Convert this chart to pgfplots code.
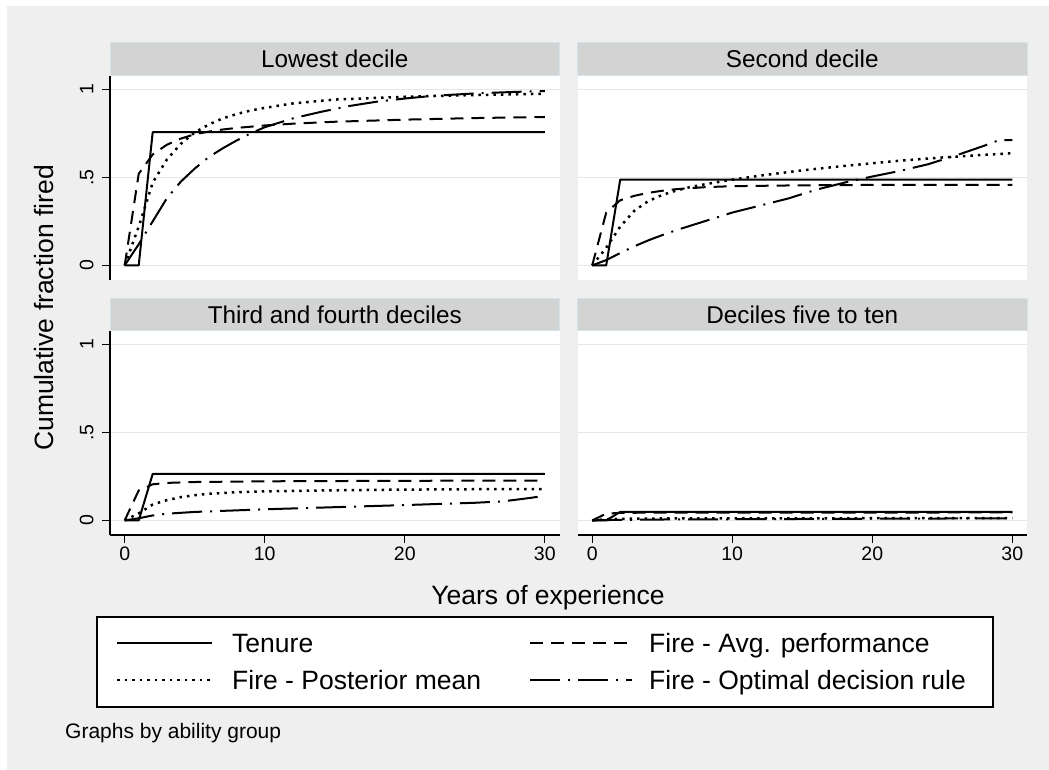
\documentclass[border=0pt]{standalone}
\usepackage{fontspec}
\setmainfont{Liberation Sans}
\usepackage{pgfplots}
\pgfplotsset{compat=1.18}
\definecolor{bggray}{RGB}{239,239,239}
\definecolor{stripgray}{RGB}{211,211,211}
\definecolor{stripedge}{RGB}{214,226,234}
\definecolor{gridgray}{RGB}{230,230,230}
\tikzset{
  tenure/.style={black, line width=2pt, line join=round},
  avgperf/.style={black, line width=2pt, dash pattern=on 13pt off 8pt, line join=round},
  postmean/.style={black, line width=2.5pt, dash pattern=on 2.5pt off 5pt},
  optrule/.style={black, line width=2pt, dash pattern=on 30pt off 8pt on 2pt off 8pt, line join=round},
}
\pgfplotsset{
  panel/.style={
    scale only axis, width=449.5pt, height=204pt, anchor=south west,
    xmin=-1.05, xmax=31.05, ymin=-0.083, ymax=1.076,
    ytick={0,0.5,1}, yticklabels={0,.5,1},
    xtick={0,10,20,30}, xticklabels={0,10,20,30},
    ymajorgrids, major grid style={gridgray, line width=1.6pt},
    axis background/.style={fill=white},
    tick align=outside, major tick length=8pt,
    tick style={black, line width=1.2pt},
    axis line style={-, black, line width=1.4pt},
    ticklabel style={font=\fontsize{19.5pt}{23pt}\selectfont},
    yticklabel style={rotate=90, anchor=south, yshift=5pt},
    /pgf/number format/assume math mode=true,
  },
  notopx/.style={axis x line=none, xtick=\empty},
  noleft/.style={y axis line style={draw=none}, ytick style={draw=none}, yticklabel style={text opacity=0}},
}
\begin{document}
\begin{tikzpicture}
\path[use as bounding box, fill=white] (0pt,0pt) rectangle (1049pt,770pt);
\fill[bggray] (7pt,0pt) rectangle (1049pt,764pt);

% Lowest decile
\begin{axis}[panel, at={(110pt,490pt)}, notopx, axis y line*=left]
\addplot[tenure] coordinates {(0,0)(1,0)(2,0.757)(30,0.757)};
\addplot[avgperf] coordinates {(0,0)(1,0.52)(2,0.63)(3,0.685)(4,0.72)(5,0.745)(6,0.76)(7,0.772)(8,0.781)(10,0.795)(12,0.805)(15,0.816)(20,0.828)(25,0.837)(30,0.843)};
\addplot[postmean] coordinates {(0,0)(1,0.22)(2,0.47)(3,0.6)(4,0.69)(5,0.755)(6,0.8)(7,0.835)(8,0.86)(9,0.88)(10,0.895)(12,0.92)(15,0.942)(20,0.958)(25,0.968)(30,0.975)};
\addplot[optrule] coordinates {(0,0)(1,0.12)(2,0.25)(3,0.38)(4,0.475)(5,0.55)(6,0.615)(7,0.665)(8,0.71)(9,0.75)(10,0.785)(12,0.835)(14,0.872)(16,0.905)(18,0.93)(20,0.948)(22,0.963)(25,0.977)(28,0.986)(30,0.99)};
\end{axis}

% Second decile
\begin{axis}[panel, at={(577.5pt,490pt)}, notopx, axis y line*=left, noleft]
\addplot[tenure] coordinates {(0,0)(1,0)(2,0.487)(30,0.487)};
\addplot[avgperf] coordinates {(0,0)(1,0.3)(2,0.37)(3,0.395)(4,0.412)(5,0.424)(6,0.433)(8,0.444)(10,0.45)(15,0.455)(20,0.457)(30,0.458)};
\addplot[postmean] coordinates {(0,0)(1,0.1)(2,0.22)(3,0.31)(4,0.365)(5,0.4)(6,0.425)(7,0.445)(8,0.46)(10,0.487)(12,0.51)(15,0.54)(18,0.565)(20,0.58)(22,0.595)(25,0.613)(28,0.628)(30,0.637)};
\addplot[optrule] coordinates {(0,0)(1,0.03)(2,0.07)(3,0.108)(4,0.142)(5,0.172)(6,0.2)(8,0.25)(10,0.3)(12,0.34)(14,0.38)(16,0.43)(18,0.47)(20,0.505)(22,0.537)(24,0.575)(26,0.625)(28,0.68)(29,0.71)(30,0.712)};
\end{axis}

% Third and fourth deciles
\begin{axis}[panel, at={(110pt,235pt)}, axis x line*=bottom, axis y line*=left]
\addplot[tenure] coordinates {(0,0)(1,0)(2,0.264)(30,0.264)};
\addplot[avgperf] coordinates {(0,0)(1,0.17)(2,0.205)(3,0.213)(5,0.218)(10,0.222)(20,0.225)(30,0.226)};
\addplot[postmean] coordinates {(0,0)(1,0.04)(2,0.09)(3,0.115)(4,0.132)(5,0.143)(6,0.151)(8,0.16)(10,0.165)(15,0.171)(20,0.175)(25,0.177)(30,0.178)};
\addplot[optrule] coordinates {(0,0)(1,0.012)(2,0.028)(3,0.038)(5,0.048)(10,0.063)(15,0.075)(20,0.087)(25,0.1)(27,0.108)(29,0.128)(30,0.14)};
\end{axis}

% Deciles five to ten
\begin{axis}[panel, at={(577.5pt,235pt)}, axis x line*=bottom, axis y line*=left, noleft]
\addplot[tenure] coordinates {(0,0)(1,0)(2,0.048)(30,0.048)};
\addplot[avgperf] coordinates {(0,0)(1,0.038)(2,0.043)(5,0.044)(30,0.045)};
\addplot[postmean] coordinates {(0,0)(1,0.006)(2,0.009)(5,0.011)(30,0.013)};
\addplot[optrule] coordinates {(0,0)(1,0.002)(5,0.005)(15,0.008)(30,0.012)};
\end{axis}

% strips
\begin{scope}[font=\fontsize{24.3pt}{29pt}\selectfont]
\filldraw[fill=stripgray, draw=stripedge, line width=0.8pt] (110pt,694.5pt) rectangle (559.5pt,727.5pt);
\filldraw[fill=stripgray, draw=stripedge, line width=0.8pt] (577.5pt,694.5pt) rectangle (1027pt,727.5pt);
\filldraw[fill=stripgray, draw=stripedge, line width=0.8pt] (110pt,439.5pt) rectangle (559.5pt,471.5pt);
\filldraw[fill=stripgray, draw=stripedge, line width=0.8pt] (577.5pt,439.5pt) rectangle (1027pt,471.5pt);
\node[anchor=base, inner sep=0pt] at (334.75pt,702.3pt) {Lowest decile};
\node[anchor=base, inner sep=0pt] at (802.25pt,702.3pt) {Second decile};
\node[anchor=base, inner sep=0pt] at (334.75pt,446.8pt) {Third and fourth deciles};
\node[anchor=base, inner sep=0pt] at (802.25pt,446.8pt) {Deciles five to ten};
\end{scope}

% axis titles
\node[rotate=90, inner sep=0pt, font=\fontsize{26.5pt}{30pt}\selectfont] at (44pt,462pt) {Cumulative fraction fired};
\node[inner sep=0pt, font=\fontsize{26.5pt}{30pt}\selectfont] at (548pt,172pt) {Years of experience};

% legend
\draw[black, line width=1.5pt, fill=white] (97pt,63pt) rectangle (993pt,153pt);
\begin{scope}[font=\fontsize{26.5pt}{30pt}\selectfont]
\draw[tenure] (117pt,127pt) -- (212pt,127pt);
\node[anchor=base west, inner sep=0pt] at (232pt,117.5pt) {Tenure};
\draw[avgperf] (530pt,127pt) -- (632pt,127pt);
\node[anchor=base west, inner sep=0pt] at (649pt,117.5pt) {Fire - Avg. performance};
\draw[postmean] (117pt,90pt) -- (212pt,90pt);
\node[anchor=base west, inner sep=0pt] at (232pt,80.5pt) {Fire - Posterior mean};
\draw[optrule] (530pt,90pt) -- (632pt,90pt);
\node[anchor=base west, inner sep=0pt] at (649pt,80.5pt) {Fire - Optimal decision rule};
\end{scope}

\node[anchor=base west, inner sep=0pt, font=\fontsize{21pt}{25pt}\selectfont] at (65pt,31pt) {Graphs by ability group};
\end{tikzpicture}
\end{document}
